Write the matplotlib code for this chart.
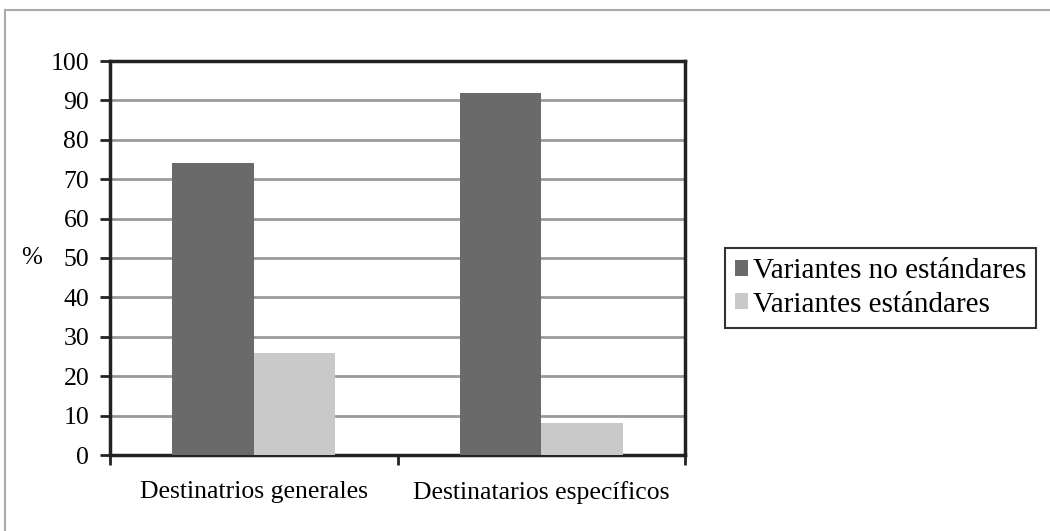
import numpy as np
import matplotlib
matplotlib.use("Agg")
import matplotlib.pyplot as plt
from matplotlib.patches import Rectangle

# Datos
categorias = ["Destinatrios generales", "Destinatarios específicos"]
no_estandar = [74, 92]
estandar = [26, 8]
series = ["Variantes no estándares", "Variantes estándares"]

plt.rcParams['font.family'] = ['Liberation Serif', 'DejaVu Serif']

fig = plt.figure(figsize=(10.5, 5.31), dpi=100)
ax = fig.add_axes([110 / 1050, 76 / 531, 575 / 1050, 394 / 531])

# marco gris exterior
fig.patches.append(Rectangle((5 / 1050, -0.01), 1.05, (531 - 10) / 531 + 0.01,
                             transform=fig.transFigure, fill=False,
                             edgecolor='#aaaaaa', linewidth=1.5))

x = np.arange(len(categorias))
w = 0.283
ax.bar(x - w / 2, no_estandar, w, color='#6a6a6a', label=series[0], zorder=3)
ax.bar(x + w / 2, estandar, w, color='#c9c9c9', label=series[1], zorder=3)

ax.set_xlim(-0.5, 1.5)
ax.set_ylim(0, 100)
ax.set_yticks(range(0, 101, 10))
ax.set_xticks([-0.5, 0.5, 1.5], minor=False)
ax.set_xticklabels([])
ax.set_xticks(x, minor=True)
ax.set_xticklabels(categorias, minor=True, fontsize=18.5)
ax.tick_params(axis='x', which='minor', length=0, pad=19)
ax.tick_params(axis='x', which='major', length=7, width=2, direction='out', color='#222222')
ax.tick_params(axis='y', length=7, width=2, direction='out', labelsize=18.5, color='#222222', pad=8)

ax.yaxis.grid(True, color='#9a9a9a', linewidth=2, zorder=0)
for s in ax.spines.values():
    s.set_linewidth(2.5)
    s.set_color('#222222')

ax.set_ylabel("%", rotation=0, fontsize=18, labelpad=14, va='center')

leg = ax.legend(loc='upper left', bbox_to_anchor=(615 / 575, 207 / 394), fontsize=21,
                frameon=True, fancybox=False, handlelength=0.45, handleheight=0.45,
                handletextpad=0.15, borderpad=0.35, labelspacing=0.25, borderaxespad=0)
leg.get_frame().set_edgecolor('black')
leg.get_frame().set_linewidth(1.5)

fig.savefig("out.png", dpi=100)
